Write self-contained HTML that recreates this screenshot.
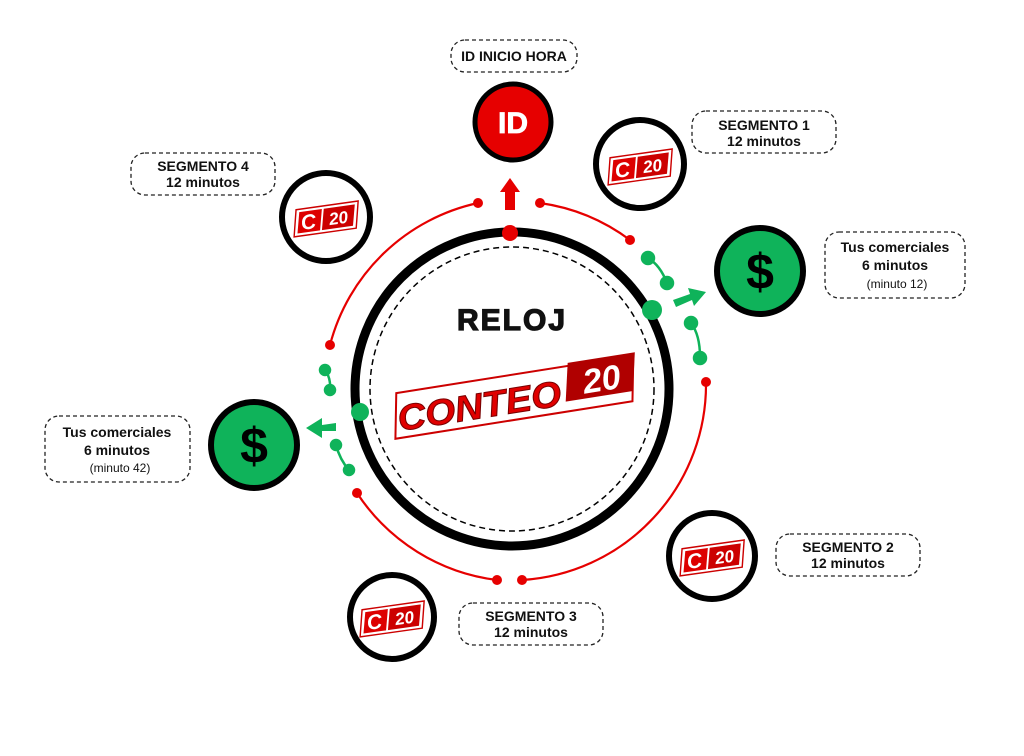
<!DOCTYPE html>
<html><head><meta charset="utf-8"><style>
html,body{margin:0;padding:0;background:#fff;}
svg{display:block}
text{font-family:"Liberation Sans",sans-serif;}
.lb{font-weight:bold;font-size:14px;fill:#111;text-anchor:middle}
.ls{font-size:12px;fill:#111;text-anchor:middle}
.box{fill:#fff;stroke:#222;stroke-width:1.3;stroke-dasharray:4 3}
</style></head><body>
<svg width="1024" height="756" viewBox="0 0 1024 756">
<defs>
<g id="c20">
 <g transform="rotate(-8)">
 <polygon points="-30,-13 36,-13 30,15 -36,15" fill="#fff" stroke="#c00" stroke-width="1.5"/>
 <polygon points="-27,-10 -3,-10 -8,12 -32,12" fill="#d00"/>
 <polygon points="-1,-10 32,-10 27,12 -6,12" fill="#c00"/>
 <text x="-19" y="9" font-size="22" font-weight="bold" font-style="italic" fill="#fff" text-anchor="middle">C</text>
 <text x="13" y="8" font-size="18" font-weight="bold" font-style="italic" fill="#fff" text-anchor="middle">20</text>
 </g>
</g>
</defs>

<g fill="none" stroke="#e60000" stroke-width="2.2">
 <path d="M540,203 A196,196 0 0 1 630,240"/>
 <path d="M706,382 A196,196 0 0 1 522,580"/>
 <path d="M497,580 A196,196 0 0 1 357,493"/>
 <path d="M330,345 A196,196 0 0 1 478,203"/>
</g>
<g fill="#e60000">
 <circle cx="540" cy="203" r="5"/><circle cx="630" cy="240" r="5"/>
 <circle cx="706" cy="382" r="5"/><circle cx="522" cy="580" r="5"/>
 <circle cx="497" cy="580" r="5"/><circle cx="357" cy="493" r="5"/>
 <circle cx="330" cy="345" r="5"/><circle cx="478" cy="203" r="5"/>
 <rect x="505" y="190" width="10" height="20"/>
 <polygon points="500,192 520,192 510,178"/>
</g>
<g stroke="#0fb35a" stroke-width="2.5" fill="#0fb35a">
 <path d="M648,258 Q660,265 667,283" fill="none"/>
 <circle cx="648" cy="258" r="6"/><circle cx="667" cy="283" r="6"/>
 <path d="M691,323 Q700,335 700,357" fill="none"/>
 <circle cx="691" cy="323" r="6"/><circle cx="700" cy="358" r="6"/>
 <path d="M325,370 Q331,378 330,390" fill="none"/>
 <circle cx="325" cy="370" r="5"/><circle cx="330" cy="390" r="5"/>
 <path d="M336,445 Q340,460 349,470" fill="none"/>
 <circle cx="336" cy="445" r="5"/><circle cx="349" cy="470" r="5"/>
 <polygon points="673,300 690,294 688,288 706,292 694,306 692,300 676,307" stroke="none"/>
 <polygon points="336,423 322,425 322,418 306,428 322,438 322,431 336,431" stroke="none"/>
</g>

<circle cx="512" cy="389" r="157" fill="#fff" stroke="#000" stroke-width="9"/>
<circle cx="512" cy="389" r="142" fill="none" stroke="#000" stroke-width="1.5" stroke-dasharray="6 4"/>
<circle cx="510" cy="233" r="8" fill="#e60000"/>
<circle cx="652" cy="310" r="10" fill="#0fb35a"/>
<circle cx="360" cy="412" r="9" fill="#0fb35a"/>
<text x="512" y="330" font-size="30" font-weight="900" text-anchor="middle" fill="#111" stroke="#111" stroke-width="1.2" letter-spacing="2">RELOJ</text>
<g transform="rotate(-9 512 395)">
 <polygon points="398,375 638,375 630,420 390,420" fill="#fff" stroke="#c00" stroke-width="2"/>
 <polygon points="572,372 640,372 632,410 564,410" fill="#b00000"/>
 <text x="478" y="413" font-size="36" font-weight="bold" font-style="italic" fill="#e00000" stroke="#700" stroke-width="1" text-anchor="middle" textLength="165" lengthAdjust="spacingAndGlyphs">CONTEO</text>
 <text x="603" y="405" font-size="34" font-weight="bold" font-style="italic" fill="#fff" text-anchor="middle">20</text>
</g>

<circle cx="513" cy="122" r="38" fill="#e60000" stroke="#000" stroke-width="5"/>
<text x="513" y="133" font-size="30" font-weight="900" fill="#fff" stroke="#fff" stroke-width="0.8" text-anchor="middle">ID</text>

<g fill="#fff" stroke="#000" stroke-width="6">
 <circle cx="640" cy="164" r="44"/><circle cx="326" cy="217" r="44"/>
 <circle cx="712" cy="556" r="43"/><circle cx="392" cy="617" r="42"/>
</g>
<use href="#c20" transform="translate(640,166) scale(0.95)"/>
<use href="#c20" transform="translate(326,218) scale(0.95)"/>
<use href="#c20" transform="translate(712,557) scale(0.95)"/>
<use href="#c20" transform="translate(392,618) scale(0.95)"/>

<g fill="#0fb35a" stroke="#000" stroke-width="6">
 <circle cx="760" cy="271" r="43"/><circle cx="254" cy="445" r="43"/>
</g>
<text x="760" y="289" font-size="50" font-weight="bold" text-anchor="middle" fill="#000">$</text>
<text x="254" y="463" font-size="50" font-weight="bold" text-anchor="middle" fill="#000">$</text>

<rect class="box" x="451" y="40" width="126" height="32" rx="14"/>
<text class="lb" x="514" y="61">ID INICIO HORA</text>
<rect class="box" x="692" y="111" width="144" height="42" rx="14"/>
<text class="lb" x="764" y="130">SEGMENTO 1</text><text class="lb" x="764" y="146">12 minutos</text>
<rect class="box" x="131" y="153" width="144" height="42" rx="14"/>
<text class="lb" x="203" y="171">SEGMENTO 4</text><text class="lb" x="203" y="187">12 minutos</text>
<rect class="box" x="825" y="232" width="140" height="66" rx="14"/>
<text class="lb" x="895" y="252">Tus comerciales</text><text class="lb" x="895" y="270">6 minutos</text><text class="ls" x="897" y="288">(minuto 12)</text>
<rect class="box" x="45" y="416" width="145" height="66" rx="14"/>
<text class="lb" x="117" y="437">Tus comerciales</text><text class="lb" x="117" y="455">6 minutos</text><text class="ls" x="120" y="472">(minuto 42)</text>
<rect class="box" x="776" y="534" width="144" height="42" rx="14"/>
<text class="lb" x="848" y="552">SEGMENTO 2</text><text class="lb" x="848" y="568">12 minutos</text>
<rect class="box" x="459" y="603" width="144" height="42" rx="14"/>
<text class="lb" x="531" y="621">SEGMENTO 3</text><text class="lb" x="531" y="637">12 minutos</text>
</svg>
</body></html>
